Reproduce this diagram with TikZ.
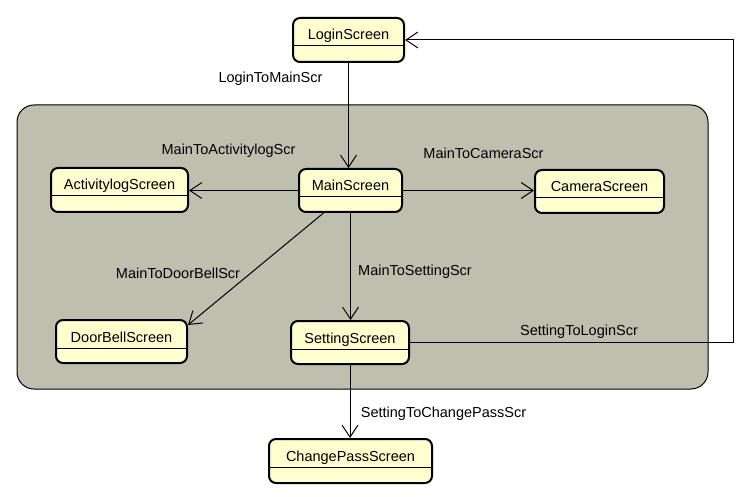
\documentclass[tikz,border=0pt]{standalone}
\usepackage{fontspec}
\setmainfont{Liberation Sans}
\usetikzlibrary{arrows.meta,calc}
\definecolor{statefill}{HTML}{FEFECE}
\definecolor{groupfill}{HTML}{BFBFAF}
\begin{document}
\begin{tikzpicture}[x=1pt,y=-1pt,
  statebox/.style={draw=black, line width=2pt, fill=statefill, rounded corners=7pt,
    inner xsep=0pt, inner ysep=0pt, text height=22pt, anchor=north west,
    font=\fontsize{14.5}{16}\selectfont,
    path picture={\draw[line width=1pt] ([yshift=-28pt]path picture bounding box.north west) -- ([yshift=-28pt]path picture bounding box.north east);}},
  groupbox/.style={draw=black, line width=1pt, fill=groupfill, rounded corners=17pt,
    inner sep=0pt, anchor=north west},
  conn/.style={draw=black, line width=1pt, -{Straight Barb[length=12pt,width=16pt,line width=1pt]}},
  lbl/.style={anchor=base, inner sep=0pt, font=\fontsize{14.5}{16}\selectfont}
]
\useasboundingbox[fill=white] (0,0) rectangle (747,497);
\node[groupbox, minimum width=691pt, minimum height=284pt] (grp) at (16.5,104.5) {};

\node[statebox, minimum width=111pt, text depth=22pt] (login) at (292,17) {LoginScreen};
\node[statebox, minimum width=103pt, text depth=21pt] (main) at (298,168) {MainScreen};
\node[statebox, minimum width=137pt, text depth=22pt] (activity) at (50,167) {ActivitylogScreen};
\node[statebox, minimum width=129pt, text depth=21pt] (camera) at (534,169) {CameraScreen};
\node[statebox, minimum width=131pt, text depth=21pt] (doorbell) at (55,319) {DoorBellScreen};
\node[statebox, minimum width=118pt, text depth=21pt] (setting) at (290,320) {SettingScreen};
\node[statebox, minimum width=163pt, text depth=22pt] (changepass) at (268,438) {ChangePassScreen};

\coordinate (fb) at (733,190);

\draw[conn] (login.south) -- (login.south |- main.north);
\draw[conn] (main.west) -- (main.west -| activity.east);
\draw[conn] (main.east) -- (main.east -| camera.west);
\draw[conn] ($(main.south)+(-27,0)$) -- ($(doorbell.north east)+(0,6)$);
\draw[conn] (main.south) -- (main.south |- setting.north);
\draw[conn] (setting.east) -- (setting.east -| fb) -- (fb |- login.east) -- (login.east);
\draw[conn] (setting.south) -- (setting.south |- changepass.north);

\node[lbl] (l1) at (270.5,83) {LoginToMainScr};
\node[lbl] (l2) at (228.5,155) {MainToActivitylogScr};
\node[lbl] (l3) at (483.5,159) {MainToCameraScr};
\node[lbl] (l4) at (178,278) {MainToDoorBellScr};
\node[lbl] (l5) at (415,276) {MainToSettingScr};
\node[lbl] (l6) at (579,335) {SettingToLoginScr};
\node[lbl] (l7) at (443.5,417) {SettingToChangePassScr};
\end{tikzpicture}
\end{document}
